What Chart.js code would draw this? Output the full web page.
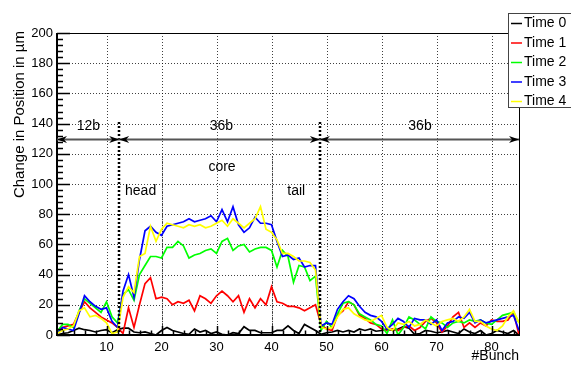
<!DOCTYPE html>
<html>
<head>
<meta charset="utf-8">
<title>Change in Position per Bunch</title>
<script src="https://cdn.jsdelivr.net/npm/chart.js@4.4.1/dist/chart.umd.min.js"></script>
<style>
  html, body { margin: 0; padding: 0; background: #ffffff; }
  canvas { display: block; }
</style>
</head>
<body>
<canvas id="chart" width="571" height="365"></canvas>
<script>
// Bunch numbers along the train
const bunches = [
  1, 2, 3, 4, 5, 6, 7, 8, 9, 10, 11, 12, 13, 14, 15, 16, 17, 18, 19, 20,
  21, 22, 23, 24, 25, 26, 27, 28, 29, 30, 31, 32, 33, 34, 35, 36, 37, 38, 39, 40,
  41, 42, 43, 44, 45, 46, 47, 48, 49, 50, 51, 52, 53, 54, 55, 56, 57, 58, 59, 60,
  61, 62, 63, 64, 65, 66, 67, 68, 69, 70, 71, 72, 73, 74, 75, 76, 77, 78, 79, 80,
  81, 82, 83, 84, 85
];

// Change in position (µm) per bunch, one list per time step
const time0 = [
  0, 1, 1.5, 3, 4.5, 3.5, 3, 2, 3, 3.5,
  1.5, 3.5, 4.5, 4.5, 2, 1.5, 2, 1, 0, 3,
  5, 3, 2, 1, 0.5, 4, 2, 3, 1, 2,
  0.5, 0, 1.5, 1, 5.5, 3, 3, 1.5, 1.5, 1.5,
  3, 3, 6, 3, 1, 7, 5, 3, 0.5, 1.5,
  2, 3, 2, 3, 2, 4, 3, 4, 2.5, 3,
  4, 3, 4, 5.5, 4.5, 0.5, 1, 3, 2.5, 1.5,
  2, 3, 2, 1, 4, 2, 1, 3, 0, 1,
  3, 2, 1, 3, 0
];
const time1 = [
  1, 5, 6, 7, 15, 22, 18, 15, 12, 10,
  8, 5, 1, 18, 5, 20, 34, 38, 24, 25,
  24, 20, 22, 21, 23, 16, 26, 24, 21, 26,
  29, 26, 22, 26, 15, 24, 18, 24, 20, 32,
  22, 21, 19, 19, 18, 16, 18, 20, 7, 4,
  3, 13, 16, 22, 20, 13, 11, 8, 7, 4,
  3, 4, 3, 5, 6, 3, 5, 9, 11, 8,
  2, 6, 12, 15, 5, 8, 5, 8, 6, 10,
  9, 9, 10, 15, 0
];
const time2 = [
  2, 7, 7, 5, 16, 24, 21, 18, 15, 22,
  12, 8, 27, 30, 23, 40, 46, 52, 52, 51,
  58, 58, 62, 59, 51, 53, 54, 56, 57, 54,
  62, 64, 56, 59, 60, 55, 57, 58, 58, 56,
  45, 56, 52, 35, 46, 45, 36, 39, 3, 9,
  5, 14, 21, 22, 20, 14, 12, 10, 7, 6,
  1, 10, 0, 5, 12, 10, 7, 4, 12, 9,
  8, 5, 8, 9, 8, 10, 9, 10, 8, 7,
  10, 13, 14, 15, 8
];
const time3 = [
  1, 5, 4, 3, 14, 26, 22, 19, 17, 18,
  9, 5, 29, 40, 25, 50, 69, 72, 68, 66,
  72, 73, 74, 75, 77, 75, 76, 77, 79, 75,
  83, 75, 85, 73, 68, 71, 78, 74, 74, 73,
  62, 52, 53, 50, 51, 45, 46, 46, 6, 8,
  7, 17, 22, 26, 24, 19, 15, 13, 12, 9,
  4, 7, 11, 9, 5, 11, 10, 10, 7, 10,
  3, 8, 9, 12, 11, 15, 8, 10, 8, 9,
  10, 11, 12, 13, 3
];
const time4 = [
  1, 3, 4, 6, 16, 18, 12, 13, 11, 8,
  1, 2, 25, 32, 28, 52, 54, 72, 62, 70,
  74, 73, 72, 71, 73, 72, 73, 71, 72, 74,
  76, 72, 77, 74, 71, 74, 77, 85, 70, 68,
  63, 54, 54, 52, 49, 49, 48, 43, 5, 4,
  5, 12, 17, 18, 14, 12, 10, 9, 11, 13,
  5, 3, 8, 7, 9, 6, 7, 10, 8, 6,
  9, 10, 11, 9, 12, 17, 9, 9, 6, 4,
  3, 6, 12, 16, 8
];

const seriesNames = ['Time 0', 'Time 1', 'Time 2', 'Time 3', 'Time 4'];
const seriesValues = [time0, time1, time2, time3, time4];
const seriesColors = ['#000000', '#ff0000', '#00ff00', '#0000ff', '#ffff00'];

// Axis tick labels
const xTickValues = [10, 20, 30, 40, 50, 60, 70, 80];
const yTickValues = [0, 20, 40, 60, 80, 100, 120, 140, 160, 180, 200];

// Bunch-train structure: train boundaries, head/core/tail split, spans
const trainEdges = [12.3, 48.8];
const coreEdges = [20, 40];
const spanStarts = [1, 12.3, 48.8];
const spanEnds = [12.3, 48.8, 85];
const spanLabels = ['12b', '36b', '36b'];
const spanLabelPos = [6.7, 30.9, 67];
const regionLabels = ['head', 'core', 'tail'];
const regionLabelX = [16.2, 31, 44.5];
const regionLabelY = [95.5, 111, 95.5];

const FONT = '"Liberation Sans", Arial, Helvetica, sans-serif';

function seg(ctx, x1, y1, x2, y2) {
  ctx.beginPath();
  ctx.moveTo(x1, y1);
  ctx.lineTo(x2, y2);
  ctx.stroke();
}

function arrowHead(ctx, tipX, tipY, dir) {
  // dir = -1 points left, +1 points right
  const len = 10, half = 3.5, notch = 3;
  ctx.beginPath();
  ctx.moveTo(tipX, tipY);
  ctx.lineTo(tipX - dir * len, tipY - half);
  ctx.lineTo(tipX - dir * (len - notch), tipY);
  ctx.lineTo(tipX - dir * len, tipY + half);
  ctx.closePath();
  ctx.fill();
}

const framePlugin = {
  id: 'framePlugin',
  beforeDatasetsDraw(chart) {
    const { ctx, chartArea: a, scales: { x, y } } = chart;
    ctx.save();
    // dotted grid
    ctx.strokeStyle = 'rgba(0,0,0,0.75)';
    ctx.lineWidth = 1;
    ctx.setLineDash([1, 2]);
    for (const v of yTickValues) {
      if (v === 0 || v === 200) continue;
      const py = Math.round(y.getPixelForValue(v)) + 0.5;
      seg(ctx, a.left, py, a.right, py);
    }
    for (const v of xTickValues) {
      const px = Math.round(x.getPixelForValue(v)) + 0.5;
      seg(ctx, px, a.top, px, a.bottom);
    }
    // head / core / tail separators
    ctx.strokeStyle = '#333333';
    ctx.setLineDash([1, 1]);
    for (const v of coreEdges) {
      const px = Math.round(x.getPixelForValue(v)) + 0.5;
      seg(ctx, px, y.getPixelForValue(118), px, a.bottom);
    }
    ctx.restore();
  },
  afterDatasetsDraw(chart) {
    const { ctx, chartArea: a, scales: { x, y } } = chart;
    ctx.save();
    ctx.setLineDash([]);
    ctx.strokeStyle = '#000';

    // train boundaries (thick dotted)
    ctx.lineWidth = 2.5;
    ctx.setLineDash([2, 2]);
    for (const v of trainEdges) {
      const px = Math.round(x.getPixelForValue(v));
      seg(ctx, px, y.getPixelForValue(141), px, a.bottom);
    }
    ctx.setLineDash([]);

    // frame
    ctx.lineWidth = 1;
    ctx.strokeRect(a.left + 0.5, a.top + 0.5, a.right - a.left, a.bottom - a.top);
    ctx.lineWidth = 2;
    seg(ctx, a.left, a.top, a.left, a.bottom + 1);
    seg(ctx, a.left - 1, a.bottom, a.right, a.bottom);

    // y ticks (major every 20, minor every 4)
    ctx.lineWidth = 1.5;
    for (let v = 0; v <= 200; v += 4) {
      const py = Math.round(y.getPixelForValue(v)) + 0.5;
      const len = (v % 20 === 0) ? 13 : 6;
      seg(ctx, a.left, py, a.left + len, py);
    }
    // x ticks (major every 10, minor every 2)
    for (let v = 2; v <= 84; v += 2) {
      const px = Math.round(x.getPixelForValue(v)) + 0.5;
      const len = (v % 10 === 0) ? 9 : 4.5;
      seg(ctx, px, a.bottom, px, a.bottom - len);
    }

    // span arrows
    const ay = Math.round(y.getPixelForValue(130)) + 0.5;
    ctx.strokeStyle = '#555555';
    ctx.lineWidth = 2;
    ctx.fillStyle = '#000';
    for (let i = 0; i < spanStarts.length; i++) {
      const x1 = x.getPixelForValue(spanStarts[i]);
      const x2 = x.getPixelForValue(spanEnds[i]);
      seg(ctx, x1, ay, x2, ay);
      arrowHead(ctx, x1, ay, -1);
      arrowHead(ctx, x2, ay, 1);
    }

    // labels
    ctx.fillStyle = '#000';
    ctx.font = '14px ' + FONT;
    ctx.textAlign = 'center';
    ctx.textBaseline = 'middle';
    for (let i = 0; i < spanLabels.length; i++) {
      ctx.fillText(spanLabels[i], x.getPixelForValue(spanLabelPos[i]), ay - 13);
    }
    for (let i = 0; i < regionLabels.length; i++) {
      ctx.fillText(regionLabels[i], x.getPixelForValue(regionLabelX[i]), y.getPixelForValue(regionLabelY[i]));
    }
    ctx.restore();
  },
  afterDraw(chart) {
    const { ctx, chartArea: a } = chart;
    ctx.save();
    // axis titles
    ctx.fillStyle = '#000';
    ctx.font = '14px ' + FONT;
    ctx.textAlign = 'right';
    ctx.textBaseline = 'middle';
    ctx.fillText('#Bunch', a.right, 356);
    ctx.save();
    ctx.translate(20, a.top - 2);
    ctx.rotate(-Math.PI / 2);
    ctx.font = '15px ' + FONT;
    ctx.textAlign = 'right';
    ctx.fillText('Change in Position in µm', 0, 0);
    ctx.restore();

    // legend box
    const lx = 508.5, ly = 13.5, lw = 70, lh = 94;
    ctx.fillStyle = '#ffffff';
    ctx.fillRect(lx, ly, lw, lh);
    ctx.strokeStyle = '#444444';
    ctx.lineWidth = 1;
    ctx.strokeRect(lx, ly, lw, lh);
    ctx.font = '14px ' + FONT;
    ctx.textAlign = 'left';
    ctx.textBaseline = 'middle';
    for (let i = 0; i < seriesNames.length; i++) {
      const ey = 23.5 + i * 19.5;
      ctx.strokeStyle = seriesColors[i];
      ctx.lineWidth = 1.5;
      seg(ctx, 511, ey, 522, ey);
      ctx.fillStyle = '#000';
      ctx.fillText(seriesNames[i], 524, ey);
    }
    ctx.restore();
  }
};

const datasets = seriesValues.map((vals, i) => ({
  label: seriesNames[i],
  data: bunches.map((b, j) => ({ x: b, y: vals[j] })),
  borderColor: seriesColors[i],
  backgroundColor: seriesColors[i],
  borderWidth: 1.7,
  pointRadius: 0,
  tension: 0,
  fill: false,
  order: seriesNames.length - i
}));

new Chart(document.getElementById('chart').getContext('2d'), {
  type: 'line',
  data: { datasets },
  options: {
    responsive: false,
    animation: false,
    devicePixelRatio: 1,
    layout: { padding: { left: 0, top: 33, right: 52, bottom: 0 } },
    plugins: { legend: { display: false }, tooltip: { enabled: false } },
    scales: {
      x: {
        type: 'linear',
        min: 1,
        max: 85,
        afterBuildTicks: s => { s.ticks = xTickValues.map(v => ({ value: v })); },
        afterFit: s => { s.height = 30; },
        grid: { display: false, drawTicks: false },
        border: { display: false },
        ticks: { font: { family: FONT, size: 13 }, color: '#000', padding: 5, maxRotation: 0, autoSkip: false }
      },
      y: {
        min: 0,
        max: 200,
        afterBuildTicks: s => { s.ticks = yTickValues.map(v => ({ value: v })); },
        afterFit: s => { s.width = 57; },
        grid: { display: false, drawTicks: false },
        border: { display: false },
        ticks: { font: { family: FONT, size: 13 }, color: '#000', padding: 4 }
      }
    }
  },
  plugins: [framePlugin]
});
</script>
</body>
</html>
